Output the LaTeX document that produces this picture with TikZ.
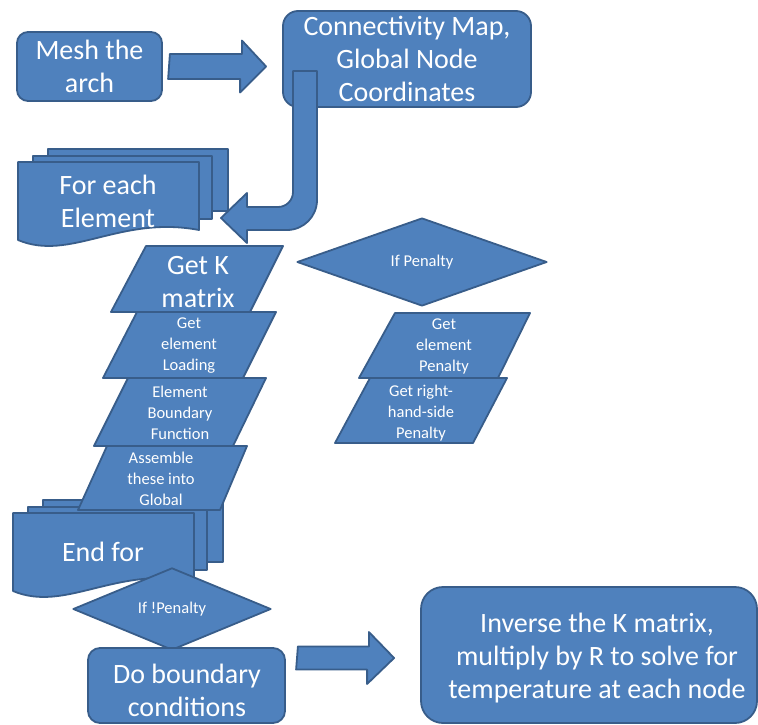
\documentclass[tikz,border=0pt]{standalone}
\usepackage{fontspec}
\setmainfont{Carlito}
\usetikzlibrary{shapes.geometric,calc}
\definecolor{boxblue}{RGB}{79,129,189}
\definecolor{edgeblue}{RGB}{56,93,138}

\begin{document}
\begin{tikzpicture}[x=1pt, y=-1pt,
        shapebox/.style={fill=boxblue, draw=edgeblue, line width=1.8pt, line join=round},
        bigtext/.style={text=white, align=center, font=\fontsize{28}{33}\selectfont},
        smalltext/.style={text=white, align=center, font=\fontsize{16.5}{21}\selectfont},
        roundbox/.style={shapebox, rectangle, inner sep=0pt},
        decision/.style={shapebox, diamond, inner sep=0pt}]
    \useasboundingbox (0,0) rectangle (758,725);
    % Top boxes
    \node[roundbox, bigtext, rounded corners=11pt, minimum width=145pt, minimum height=69pt] (mesh) at (89.5,66.5) {Mesh the\\arch};
    \node[roundbox, bigtext, rounded corners=15pt, minimum width=248pt, minimum height=96pt] (conn) at (407,59) {Connectivity Map,\\Global Node\\Coordinates};
    % Stacked documents (loop start / end)
    \foreach \ox/\oy in {0/0, -5/351} {
            \begin{scope}[shift={(\ox,\oy)}]
                \draw[shapebox] (48,149) rectangle (228,211);
                \draw[shapebox] (33,156) rectangle (212,219);
                \draw[shapebox] (18,162) -- (199,162) -- (199,230) .. controls (120,215) and (70,262) .. (18,240) -- cycle;
            \end{scope}
        }
    \node[bigtext] (foreach) at (108,201) {For each\\Element};
    \node[bigtext] (endfor) at (103,552) {End for};
    % Block arrow mesh -> conn
    \coordinate (a1tail) at ([xshift=7pt]mesh.east);
    \coordinate (a1tip) at ([xshift=-16pt]conn.west |- a1tail);
    \draw[shapebox] (a1tail) ++(0,-12.5) -- ++(72,0) -- ++(0,-13.5) -- (a1tip) -- ++(-26,26) -- ++(0,-13.5) -- ++(-72,0) -- cycle;
    % Bent arrow conn -> foreach
    \coordinate (bendtop) at (305,71);
    \coordinate (bendtip) at (221,218);
    \draw[shapebox] ($(bendtop)+(-12,0)$) -- ($(bendtop)+(12,0)$) [rounded corners=30pt] -- (317,230) [sharp corners] -- (247,230) -- (247,243) -- (bendtip) -- (247,193) -- (247,207) [rounded corners=15pt] -- (293,207) [sharp corners] -- cycle;
    % Element steps
    \draw[shapebox] (111,312) -- (146,246) -- (283,246) -- (250,312) -- cycle;
    \node[bigtext] (getk) at (198,282) {Get K\\matrix};
    \draw[shapebox] (103,378) -- (137,312) -- (276,312) -- (243,378) -- cycle;
    \node[smalltext] (load) at (189,346) {Get\\element\\Loading};
    \draw[shapebox] (94,446) -- (128,378) -- (266,378) -- (233,446) -- cycle;
    \node[smalltext] (bound) at (180,413) {Element\\Boundary\\Function};
    \draw[shapebox] (78,510) -- (107,446) -- (247,446) -- (220,510) -- cycle;
    \node[smalltext] (assem) at (161,479) {Assemble\\these into\\Global};
    % Penalty branch
    \node[decision, smalltext, minimum width=250pt, minimum height=88pt] (ifpen) at (422,262) {If Penalty};
    \draw[shapebox] (359,378) -- (395,313) -- (530,313) -- (498,378) -- cycle;
    \node[smalltext] (elpen) at (444,346) {Get\\element\\Penalty};
    \draw[shapebox] (335,443) -- (370,378) -- (507,378) -- (473,443) -- cycle;
    \node[smalltext] (rhspen) at (421,413) {Get right-\\hand-side\\Penalty};
    % After the loop
    \node[decision, smalltext, minimum width=198pt, minimum height=74pt] (ifnot) at (172,609) {If !Penalty};
    \node[roundbox, rounded corners=12pt, minimum width=197pt, minimum height=75pt] (dobc) at (186.5,685.5) {};
    \node[bigtext] (dobctext) at (187,690) {Do boundary\\conditions};
    \node[roundbox, rounded corners=22pt, minimum width=336pt, minimum height=136pt] (inv) at (589,655) {};
    \node[bigtext] (invtext) at (597,658) {Inverse the K matrix,\\multiply by R to solve for\\temperature at each node};
    % Block arrow dobc -> inv
    \coordinate (a2tail) at ([xshift=12pt]dobc.east |- invtext);
    \coordinate (a2tip) at ([xshift=-26pt]inv.west |- a2tail);
    \draw[shapebox] (a2tail) ++(0,-11.5) -- ++(71,0) -- ++(0,-14.5) -- (a2tip) -- ++(-27,26) -- ++(0,-14.5) -- ++(-71,0) -- cycle;
\end{tikzpicture}
\end{document}
